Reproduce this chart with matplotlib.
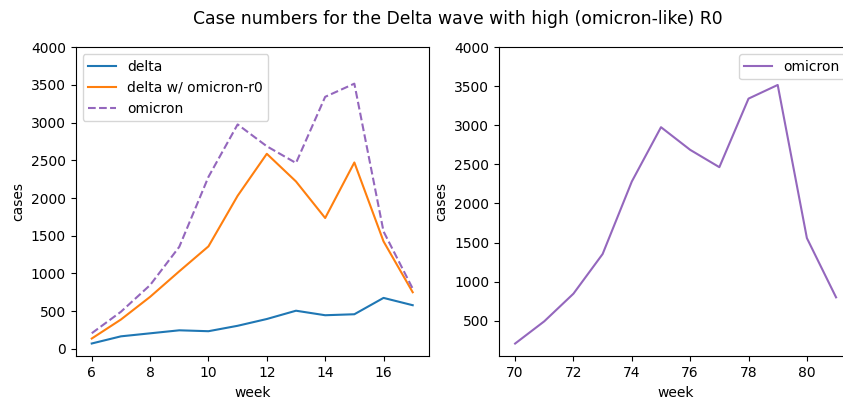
import matplotlib
matplotlib.use("Agg")
import matplotlib.pyplot as plt

# Data
weeks_delta = [6, 7, 8, 9, 10, 11, 12, 13, 14, 15, 16, 17]
delta = [70, 165, 205, 245, 233, 305, 395, 505, 445, 458, 675, 578]
delta_omicron_r0 = [136, 388, 689, 1028, 1359, 2030, 2587, 2220, 1735, 2472, 1425, 750]
omicron = [206, 491, 845, 1353, 2281, 2977, 2687, 2465, 3343, 3518, 1557, 798]
weeks_omicron = [70, 71, 72, 73, 74, 75, 76, 77, 78, 79, 80, 81]

fig = plt.figure(figsize=(8.43, 4.01), dpi=100)
ax1 = fig.add_axes([0.0898, 0.111, 0.4188, 0.771])
# right panel runs off the edge of the (cropped) reference picture
ax2 = fig.add_axes([0.592, 0.111, 0.4188, 0.771])

ax1.plot(weeks_delta, delta, color="tab:blue", label="delta")
ax1.plot(weeks_delta, delta_omicron_r0, color="tab:orange", label="delta w/ omicron-r0")
ax1.plot(weeks_delta, omicron, color="tab:purple", linestyle="--", label="omicron")
ax1.set_ylim(top=4000)
ax1.set_xlabel("week")
ax1.set_ylabel("cases")
ax1.legend(loc="upper left")

ax2.plot(weeks_omicron, omicron, color="tab:purple", label="omicron")
ax2.set_ylim(top=4000)
ax2.set_xlabel("week")
ax2.set_ylabel("cases")
ax2.legend(loc="upper right")

fig.suptitle("Case numbers for the Delta wave with high (omicron-like) R0",
             x=458 / 843, y=0.975, fontsize=12.4)

fig.savefig("out.png", dpi=100)
